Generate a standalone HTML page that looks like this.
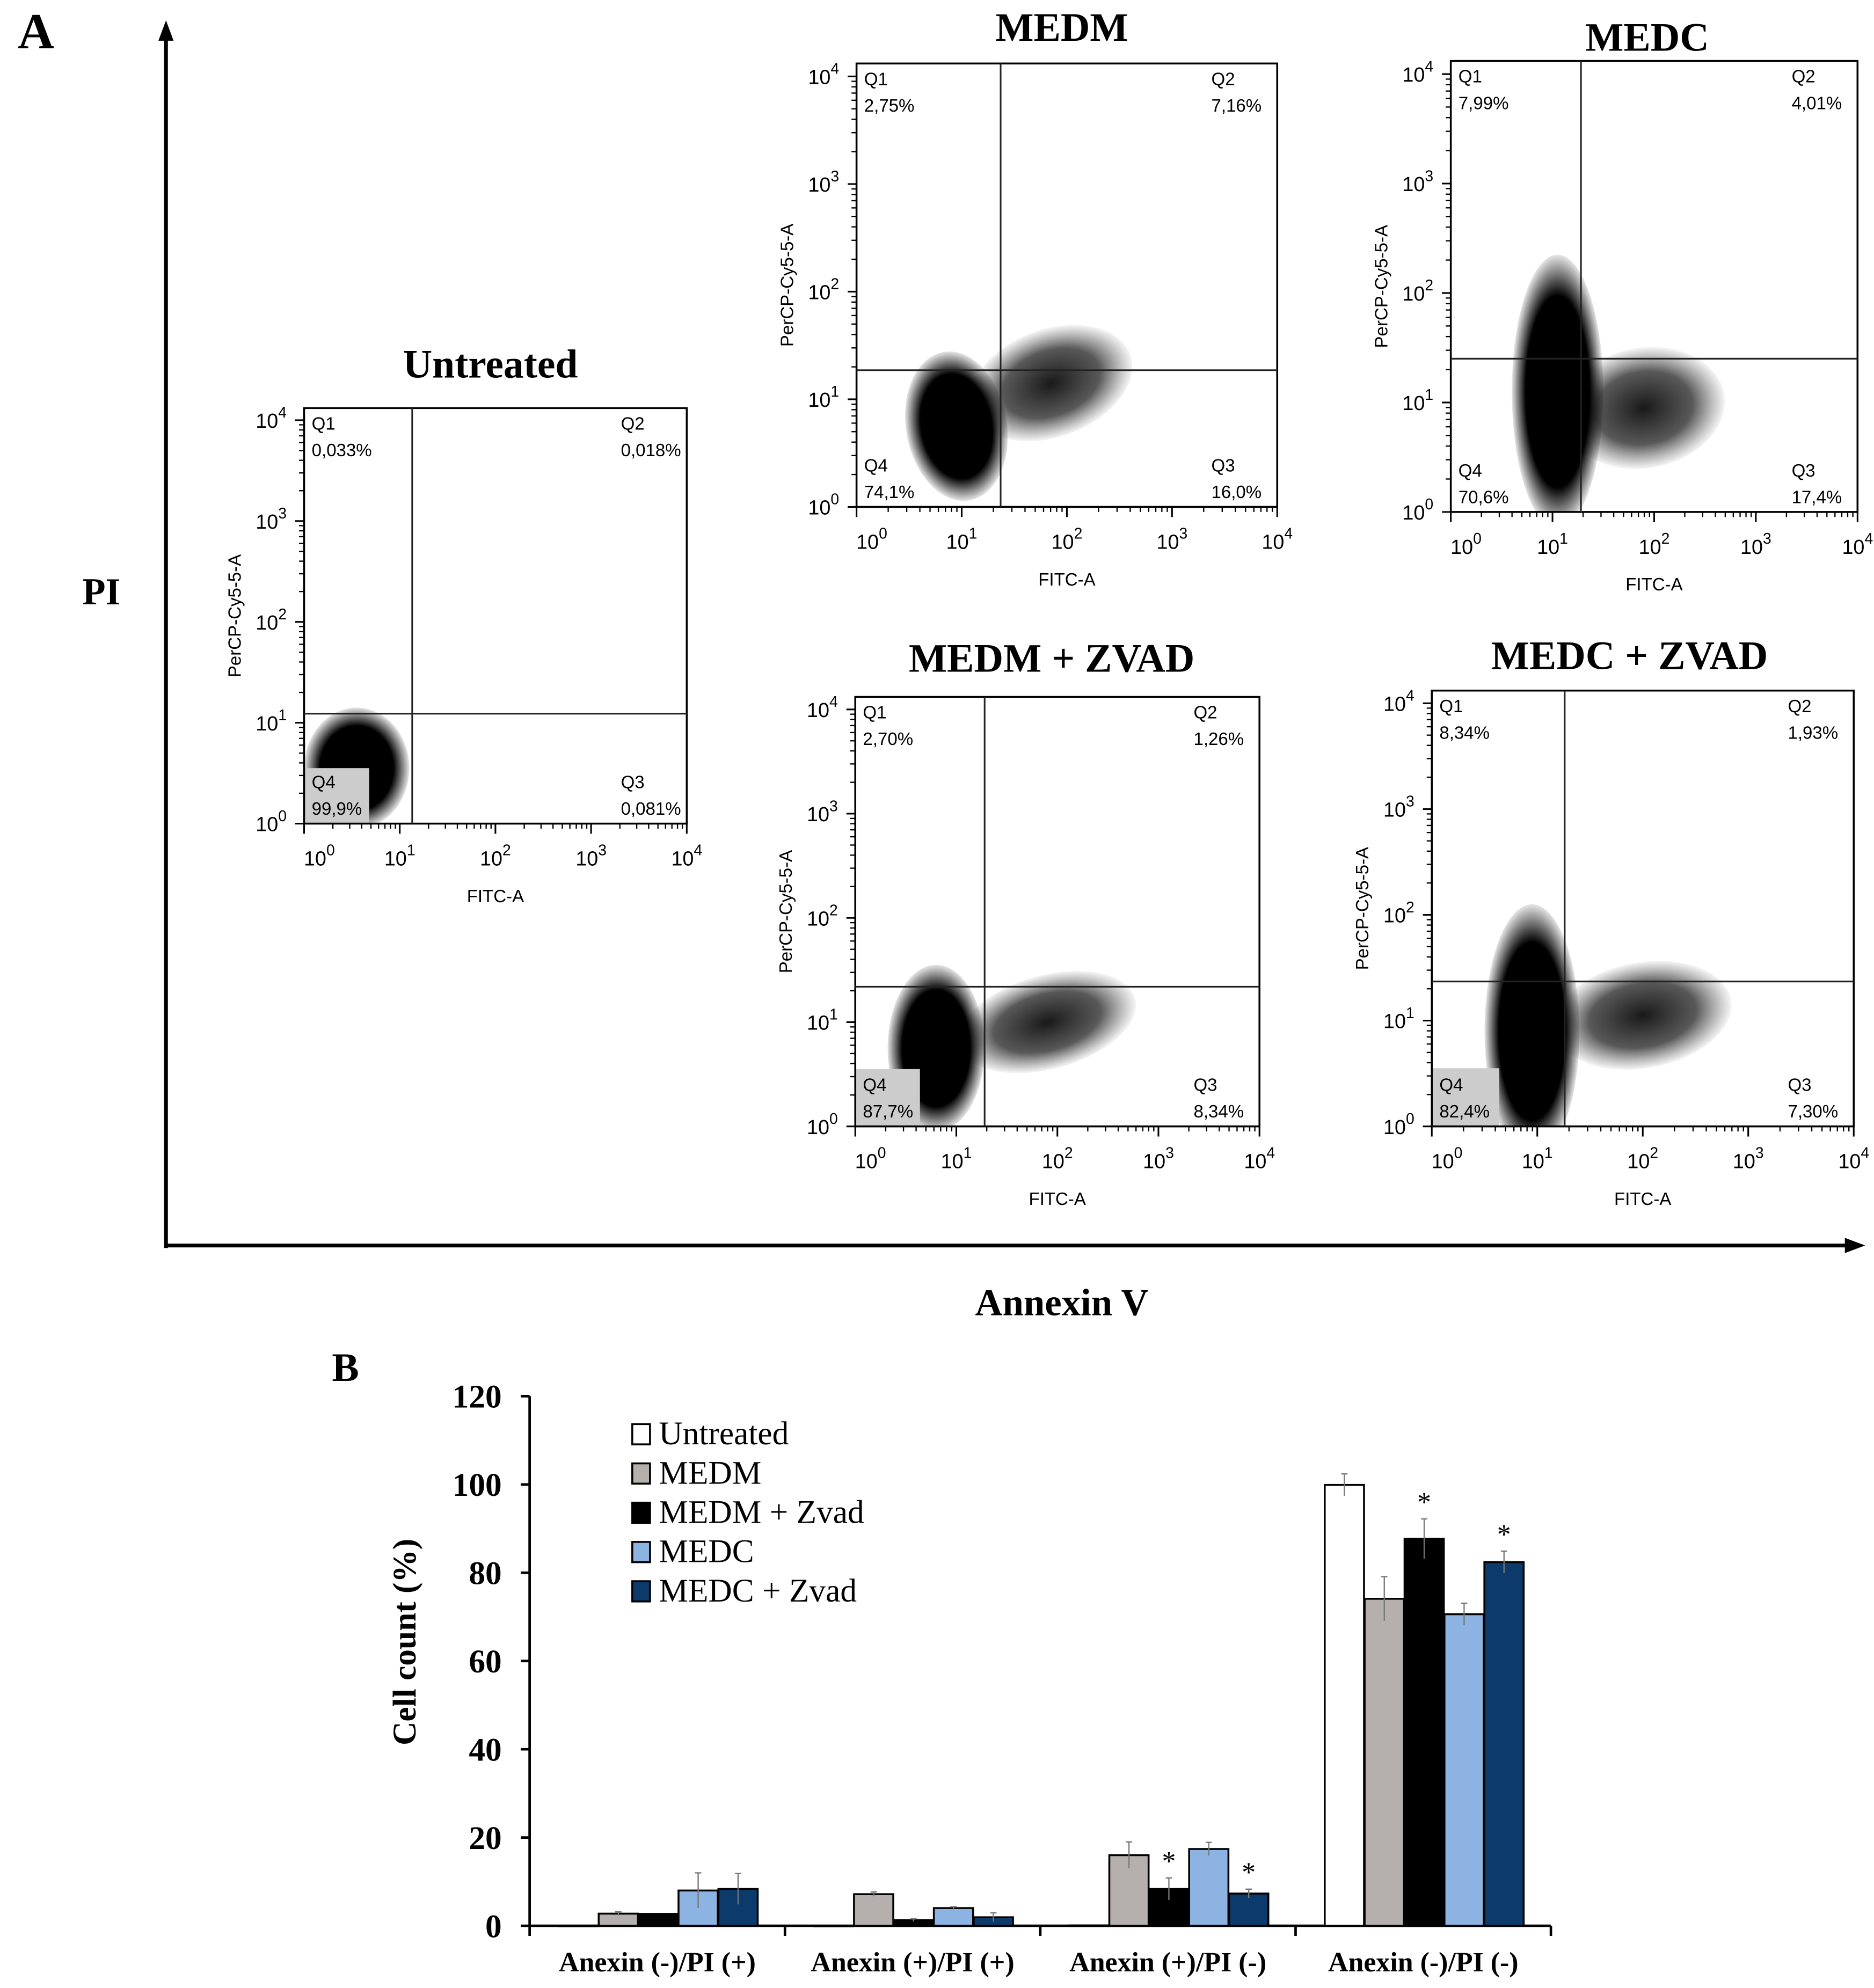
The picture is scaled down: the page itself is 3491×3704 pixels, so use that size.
<!DOCTYPE html>
<html><head><meta charset="utf-8"><style>
html,body{margin:0;padding:0;background:#fff}
svg{display:block}
text{font-family:"Liberation Sans",sans-serif}
.serif{font-family:"Liberation Serif",serif;font-weight:bold}
.serifn{font-family:"Liberation Serif",serif}
</style></head><body>
<svg id="fig" width="3491" height="3704" viewBox="0 0 1479 1569" xmlns="http://www.w3.org/2000/svg">
<defs>
<radialGradient id="cloud"><stop offset="0" stop-color="#000"/><stop offset="0.7" stop-color="#000"/><stop offset="1" stop-color="#000" stop-opacity="0.1"/></radialGradient>
<radialGradient id="tail"><stop offset="0" stop-color="#000" stop-opacity="0.9"/><stop offset="0.6" stop-color="#111" stop-opacity="0.7"/><stop offset="1" stop-color="#333" stop-opacity="0.05"/></radialGradient>
</defs>
<text class="serif" x="14" y="38" font-size="40">A</text>
<line x1="131" y1="985" x2="131" y2="28" stroke="#000" stroke-width="3"/>
<polygon points="131,16 125,32 137,32" fill="#000"/>
<line x1="130" y1="983" x2="1460" y2="983" stroke="#000" stroke-width="3"/>
<polygon points="1472,983 1456,977 1456,989" fill="#000"/>
<text class="serif" x="80" y="477" font-size="30" text-anchor="middle">PI</text>
<text class="serif" x="838" y="1038" font-size="30" text-anchor="middle">Annexin V</text>
<g id="panels"></g>
<text class="serif" x="262" y="1090" font-size="32">B</text>
<g id="bars"></g>
</svg>
<script>
// ---------- Bar chart data ----------
const categories = ["Anexin (-)/PI (+)","Anexin (+)/PI (+)","Anexin (+)/PI (-)","Anexin (-)/PI (-)"];
const seriesNames = ["Untreated","MEDM","MEDM + Zvad","MEDC","MEDC + Zvad"];
const untreatedVals = [0.033,0.018,0.081,99.9];
const medmVals = [2.75,7.16,16.0,74.1];
const medmZvadVals = [2.70,1.26,8.34,87.7];
const medcVals = [7.99,4.01,17.4,70.6];
const medcZvadVals = [8.34,1.93,7.30,82.4];
const untreatedErr = [0,0,0,2.5];
const medmErr = [0.4,0.5,3,5];
const medmZvadErr = [0,0.3,2.5,4.5];
const medcErr = [4,0.3,1.5,2.5];
const medcZvadErr = [3.5,1,1,2.5];
const starFlags = [[0,0,0,0],[0,0,0,0],[0,0,1,1],[0,0,0,0],[0,0,1,1]]; // [series][category]
const yTicks = [0,20,40,60,80,100,120];
const seriesColors = ["#ffffff","#b5b0ad","#000000","#8db3e2","#0b3a6b"];

const NS="http://www.w3.org/2000/svg";
function mk(tag,attrs,parent,txt){const e=document.createElementNS(NS,tag);for(const k in attrs)e.setAttribute(k,attrs[k]);if(txt!==undefined)e.textContent=txt;parent.appendChild(e);return e;}

const bg=document.getElementById('bars');
const ax0=418, ax1=1224, yBase=1520, yTop=1102;
const yS=v=>yBase-(v/120)*(yBase-yTop);
const groupW=(ax1-ax0)/categories.length;
const xBar=(c,s)=>ax0+c*groupW+23+s*31.5;
let el;
el=mk('line',{x1:ax0,y1:yTop,x2:ax0,y2:yBase,stroke:'#000','stroke-width':2},bg);

el=mk('line',{x1:ax0,y1:yBase,x2:ax1,y2:yBase,stroke:'#000','stroke-width':2},bg);

yTicks.forEach(t=>{
  el=mk('line',{x1:ax0-7,y1:yS(t),x2:ax0,y2:yS(t),stroke:'#000','stroke-width':2},bg);
  
  el=mk('text',{x:ax0-22,y:yS(t)+9,'font-size':26,'text-anchor':'end',class:'serif'},bg,String(t));
  
});
for(let c=0;c<=categories.length;c++){
  el=mk('line',{x1:ax0+c*groupW,y1:yBase,x2:ax0+c*groupW,y2:yBase+8,stroke:'#000','stroke-width':2},bg);
  
}
categories.forEach((cat,c)=>{
  el=mk('text',{x:ax0+(c+0.5)*groupW,y:1556,'font-size':22,'text-anchor':'middle',class:'serif'},bg,cat);
  
});
el=mk('text',{x:0,y:0,'font-size':26,'text-anchor':'middle',class:'serif',transform:'translate(328,1296) rotate(-90)'},bg,'Cell count (%)');

const allVals=[untreatedVals,medmVals,medmZvadVals,medcVals,medcZvadVals];
const allErr=[untreatedErr,medmErr,medmZvadErr,medcErr,medcZvadErr];
allVals.forEach((vals,s)=>{
  vals.forEach((v,c)=>{
    const x=xBar(c,s), y=yS(v);
    el=mk('rect',{x:x,y:y,width:31,height:Math.max(yBase-y,0.5),fill:seriesColors[s],stroke:'#000','stroke-width':1.5},bg);
    
    const e=allErr[s][c];
    if(e>0){
      el=mk('line',{x1:x+15.5,y1:yS(v+e),x2:x+15.5,y2:yS(v-e),stroke:'#777','stroke-width':1},bg);
      
      el=mk('line',{x1:x+13,y1:yS(v+e),x2:x+18,y2:yS(v+e),stroke:'#777','stroke-width':1},bg);
      
    }
    if(starFlags[s][c]){
      el=mk('text',{x:x+15.5,y:yS(v+e)-6,'font-size':22,'text-anchor':'middle',class:'serifn'},bg,'*');
      
    }
  });
});
seriesNames.forEach((n,s)=>{
  const y=1124+s*31;
  el=mk('rect',{x:499,y:y,width:14,height:16,fill:seriesColors[s],stroke:'#000','stroke-width':1.5},bg);
  
  el=mk('text',{x:520,y:y+16,'font-size':26,class:'serifn'},bg,n);
  
});

// ---------- Flow cytometry panels ----------
const panelTitles=["Untreated","MEDM","MEDC","MEDM + ZVAD","MEDC + ZVAD"];
const q1Vals=["0,033%","2,75%","7,99%","2,70%","8,34%"];
const q2Vals=["0,018%","7,16%","4,01%","1,26%","1,93%"];
const q3Vals=["0,081%","16,0%","17,4%","8,34%","7,30%"];
const q4Vals=["99,9%","74,1%","70,6%","87,7%","82,4%"];
const gateX=[1.13,1.37,1.28,1.28,1.26]; // log10 FITC gate
const gateY=[1.09,1.27,1.40,1.34,1.37]; // log10 PerCP gate
// clouds: [log x, log y, log rx, log ry, rotation, type]
const cloudsList=[
  [[0.55,0.55,0.55,0.6,0,'c']],
  [[1.85,1.15,0.8,0.5,-20,'t'],[0.95,0.75,0.48,0.7,-10,'c']],
  [[1.9,0.95,0.8,0.55,-10,'t'],[1.05,1.1,0.45,1.25,0,'c']],
  [[1.9,1.0,0.9,0.45,-15,'t'],[0.8,0.75,0.48,0.8,0,'c']],
  [[2.0,1.05,0.85,0.5,-10,'t'],[0.95,0.9,0.45,1.2,0,'c']]
];
const boxes=[[240,322,302,328],[676,50,332,350],[1145,48,321,356],[675,550,319,339],[1130,545,333,344]];
const titlePos=[[387,298],[838,32],[1300,40],[830,530],[1286,528]];

const pg=document.getElementById('panels');
boxes.forEach((b,i)=>{
  const [x0,y0,w,h]=b;
  const g=mk('g',{},pg);
  
  const sx=v=>x0+v/4*w, sy=v=>y0+h-v/4.12*h;
  const cp=mk('clipPath',{id:'cp'+i},g);mk('rect',{x:x0,y:y0,width:w,height:h},cp);
  const cg=mk('g',{'clip-path':'url(#cp'+i+')'},g);
  cloudsList[i].forEach(c=>{
    const cx=sx(c[0]),cy=sy(c[1]);
    el=mk('ellipse',{cx:cx,cy:cy,rx:c[2]/4*w,ry:c[3]/4.12*h,fill:c[5]==='c'?'url(#cloud)':'url(#tail)',transform:`rotate(${c[4]} ${cx} ${cy})`},cg);
    
  });
  if(i===0||i>=3){el=mk('rect',{x:x0,y:sy(0.55),width:w*(i===0?0.17:0.16),height:h-(sy(0.55)-y0),fill:'#ccc'},cg);
    }
  el=mk('rect',{x:x0,y:y0,width:w,height:h,fill:'none',stroke:'#000','stroke-width':1.5},g);
  
  el=mk('line',{x1:sx(gateX[i]),y1:y0,x2:sx(gateX[i]),y2:y0+h,stroke:'#222','stroke-width':1.3},g);
  
  el=mk('line',{x1:x0,y1:sy(gateY[i]),x2:x0+w,y2:sy(gateY[i]),stroke:'#222','stroke-width':1.3},g);
  
  const fs=14;
  [['Q1',x0+6,y0+17],['Q2',x0+w-52,y0+17]].forEach(q=>{el=mk('text',{x:q[1],y:q[2],'font-size':fs},g,q[0]);});
  el=mk('text',{x:x0+6,y:y0+38,'font-size':fs},g,q1Vals[i]);
  el=mk('text',{x:x0+w-52,y:y0+38,'font-size':fs},g,q2Vals[i]);
  el=mk('text',{x:x0+6,y:y0+h-28,'font-size':fs},g,'Q4');
  el=mk('text',{x:x0+6,y:y0+h-7,'font-size':fs},g,q4Vals[i]);
  el=mk('text',{x:x0+w-52,y:y0+h-28,'font-size':fs},g,'Q3');
  el=mk('text',{x:x0+w-52,y:y0+h-7,'font-size':fs},g,q3Vals[i]);
  for(let d=0;d<=4;d++){
    mk('line',{x1:x0-7,y1:sy(d),x2:x0,y2:sy(d),stroke:'#000','stroke-width':1.3},g);
    mk('line',{x1:sx(d),y1:y0+h,x2:sx(d),y2:y0+h+8,stroke:'#000','stroke-width':1.3},g);
    for(let m=2;m<10&&d<4;m++){const l=d+Math.log10(m);
      mk('line',{x1:x0-4,y1:sy(l),x2:x0,y2:sy(l),stroke:'#000','stroke-width':1},g);
      mk('line',{x1:sx(l),y1:y0+h,x2:sx(l),y2:y0+h+4,stroke:'#000','stroke-width':1},g);}
    el=mk('text',{x:x0-26,y:sy(d)+6,'font-size':16,'text-anchor':'middle'},g);
    
    mk('tspan',{},el,'10');mk('tspan',{dy:-8,'font-size':12},el,String(d));
    el=mk('text',{x:sx(d)+(d===0?12:0),y:y0+h+33,'font-size':16,'text-anchor':'middle'},g);
    
    mk('tspan',{},el,'10');mk('tspan',{dy:-8,'font-size':12},el,String(d));
  }
  el=mk('text',{x:x0+w/2,y:y0+h+62,'font-size':14,'text-anchor':'middle'},g,'FITC-A');
  
  el=mk('text',{x:0,y:0,'font-size':14,'text-anchor':'middle',transform:`translate(${x0-50},${y0+h/2}) rotate(-90)`},g,'PerCP-Cy5-5-A');
  
  el=mk('text',{x:titlePos[i][0],y:titlePos[i][1],'font-size':32,'text-anchor':'middle',class:'serif'},g,panelTitles[i]);
  
});
</script>
</body></html>
